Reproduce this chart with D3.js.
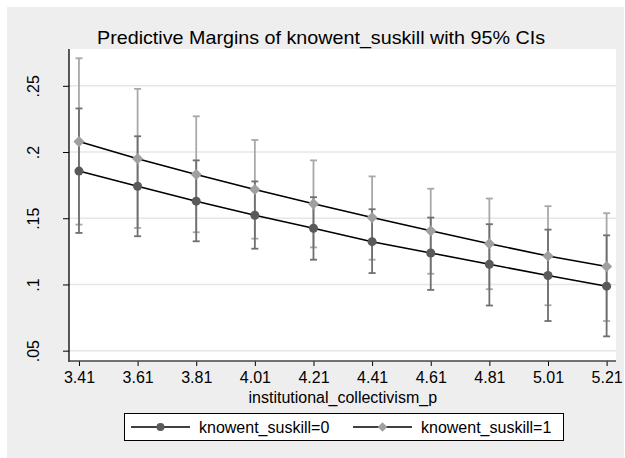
<!DOCTYPE html>
<html>
<head>
<meta charset="utf-8">
<script src="https://cdn.jsdelivr.net/npm/d3@7"></script>
<style>
  html, body { margin: 0; padding: 0; background: #ffffff; }
  svg { display: block; font-family: "Liberation Sans", Arial, sans-serif; }
</style>
</head>
<body>
<svg id="chart" width="625" height="458"></svg>
<script>
// Predictive margins at each level of institutional_collectivism_p
const xValues = [3.41, 3.61, 3.81, 4.01, 4.21, 4.41, 4.61, 4.81, 5.01, 5.21];
const xTickLabels = ["3.41", "3.61", "3.81", "4.01", "4.21", "4.41", "4.61", "4.81", "5.01", "5.21"];
const yTicks = [0.05, 0.1, 0.15, 0.2, 0.25];
const yTickLabels = [".05", ".1", ".15", ".2", ".25"];

// knowent_suskill = 0
const margin0 = [0.1856, 0.1742, 0.1629, 0.1523, 0.1424, 0.1323, 0.1238, 0.1152, 0.1068, 0.0987];
const lower0  = [0.1389, 0.1364, 0.1326, 0.1270, 0.1187, 0.1086, 0.0959, 0.0841, 0.0724, 0.0608];
const upper0  = [0.2329, 0.2119, 0.1937, 0.1778, 0.1659, 0.1568, 0.1505, 0.1455, 0.1414, 0.1371];

// knowent_suskill = 1
const margin1 = [0.2079, 0.1950, 0.1831, 0.1717, 0.1609, 0.1505, 0.1405, 0.1308, 0.1215, 0.1136];
const lower1  = [0.1452, 0.1427, 0.1394, 0.1346, 0.1280, 0.1187, 0.1081, 0.0964, 0.0843, 0.0724];
const upper1  = [0.2708, 0.2477, 0.2270, 0.2091, 0.1937, 0.1816, 0.1723, 0.1649, 0.1591, 0.1538];

const seriesNames = ["knowent_suskill=0", "knowent_suskill=1"];

const svg = d3.select("#chart");
const FONT = "Liberation Sans, Arial, sans-serif";

// outer graph region
svg.append("rect").attr("x", 7).attr("y", 7).attr("width", 617).attr("height", 451)
  .attr("fill", "#eeeeee");

const plot = { left: 69, right: 616, top: 49, bottom: 361 };

svg.append("rect")
  .attr("x", plot.left).attr("y", plot.top)
  .attr("width", plot.right - plot.left).attr("height", plot.bottom - plot.top)
  .attr("fill", "#ffffff");

const x = d3.scaleLinear().domain([3.376, 5.242]).range([plot.left, plot.right]);
const y = d3.scaleLinear().domain([0.0422, 0.2778]).range([plot.bottom, plot.top]);

// horizontal grid lines
svg.append("g").selectAll("line").data(yTicks).join("line")
  .attr("x1", plot.left).attr("x2", plot.right)
  .attr("y1", d => y(d)).attr("y2", d => y(d))
  .attr("stroke", "#e6e6e6").attr("stroke-width", 1.5);

// y axis
const yAxis = d3.axisLeft(y).tickValues(yTicks)
  .tickFormat((d, i) => yTickLabels[i]).tickSize(6).tickPadding(0);
const gy = svg.append("g").attr("transform", `translate(${plot.left},0)`).call(yAxis);
gy.select(".domain").remove();
gy.selectAll(".tick line").attr("stroke", "#000").attr("stroke-width", 1);
gy.selectAll(".tick text")
  .attr("transform", "rotate(-90)")
  .attr("x", 0).attr("y", -30)
  .attr("dy", 0)
  .attr("text-anchor", "middle")
  .attr("font-size", 16).attr("fill", "#000")
  .attr("font-family", FONT);
svg.append("line").attr("x1", plot.left).attr("x2", plot.left)
  .attr("y1", plot.top).attr("y2", plot.bottom + 1)
  .attr("stroke", "#000").attr("stroke-width", 1.3);

// x axis
const xAxis = d3.axisBottom(x).tickValues(xValues)
  .tickFormat((d, i) => xTickLabels[i]).tickSize(5).tickPadding(6);
const gx = svg.append("g").attr("transform", `translate(0,${plot.bottom})`).call(xAxis);
gx.select(".domain").remove();
gx.selectAll(".tick line").attr("stroke", "#000").attr("stroke-width", 1);
gx.selectAll(".tick text").attr("font-size", 16).attr("fill", "#000")
  .attr("font-family", FONT);
svg.append("line").attr("x1", plot.left).attr("x2", plot.right)
  .attr("y1", plot.bottom).attr("y2", plot.bottom)
  .attr("stroke", "#444").attr("stroke-width", 1.5);

// axis title
svg.append("text").attr("x", (x(3.41) + x(5.21)) / 2).attr("y", 403)
  .attr("text-anchor", "middle").attr("font-size", 16).attr("fill", "#000")
  .text("institutional_collectivism_p");

// chart title
svg.append("text").attr("x", 321).attr("y", 43.5)
  .attr("text-anchor", "middle").attr("font-size", 18.5).attr("fill", "#000")
  .attr("textLength", 448).attr("lengthAdjust", "spacingAndGlyphs")
  .text("Predictive Margins of knowent_suskill with 95% CIs");

const diamond = d3.symbol().type(d3.symbolSquare);
const series = [
  { mid: margin1, lo: lower1, hi: upper1, ci: "#a8a8a8", fill: "#a0a0a0", shape: d3.symbolSquare, size: 62, rot: 45 },
  { mid: margin0, lo: lower0, hi: upper0, ci: "#6f6f6f", fill: "#5a5a5a", shape: d3.symbolCircle, size: 64, rot: 0 }
];

// confidence interval caps
series.forEach(s => {
  const g = svg.append("g").attr("stroke", s.ci).attr("stroke-width", 1.8).attr("fill", "none");
  xValues.forEach((xv, i) => {
    const cx = x(xv);
    g.append("line").attr("x1", cx).attr("x2", cx).attr("y1", y(s.lo[i])).attr("y2", y(s.hi[i]));
    g.append("line").attr("x1", cx - 3.5).attr("x2", cx + 3.5).attr("y1", y(s.lo[i])).attr("y2", y(s.lo[i]));
    g.append("line").attr("x1", cx - 3.5).attr("x2", cx + 3.5).attr("y1", y(s.hi[i])).attr("y2", y(s.hi[i]));
  });
});

// connecting lines
const line = d3.line().x((d, i) => x(xValues[i])).y(d => y(d));
[margin0, margin1].forEach(m => {
  svg.append("path").datum(m).attr("d", line)
    .attr("fill", "none").attr("stroke", "#000").attr("stroke-width", 1.6);
});

// markers
series.forEach(s => {
  svg.append("g").selectAll("path").data(s.mid).join("path")
    .attr("d", d3.symbol().type(s.shape).size(s.size))
    .attr("transform", (d, i) => `translate(${x(xValues[i])},${y(d)}) rotate(${s.rot})`)
    .attr("fill", s.fill);
});

// legend
const legend = svg.append("g");
legend.append("rect").attr("x", 124.5).attr("y", 413.5).attr("width", 439).attr("height", 27)
  .attr("fill", "#ffffff").attr("stroke", "#000").attr("stroke-width", 1);
const legendItems = [
  { name: seriesNames[0], x0: 131, fill: "#5a5a5a", shape: d3.symbolCircle, size: 50, rot: 0 },
  { name: seriesNames[1], x0: 353, fill: "#a0a0a0", shape: d3.symbolSquare, size: 45, rot: 45 }
];
legendItems.forEach(it => {
  const ly = 427;
  legend.append("line").attr("x1", it.x0).attr("x2", it.x0 + 59).attr("y1", ly).attr("y2", ly)
    .attr("stroke", "#000").attr("stroke-width", 1.5);
  legend.append("path").attr("d", d3.symbol().type(it.shape).size(it.size)())
    .attr("transform", `translate(${it.x0 + 29.5},${ly}) rotate(${it.rot})`).attr("fill", it.fill);
  legend.append("text").attr("x", it.x0 + 68).attr("y", ly + 5.5)
    .attr("font-size", 16).attr("fill", "#000").text(it.name);
});
</script>
</body>
</html>
